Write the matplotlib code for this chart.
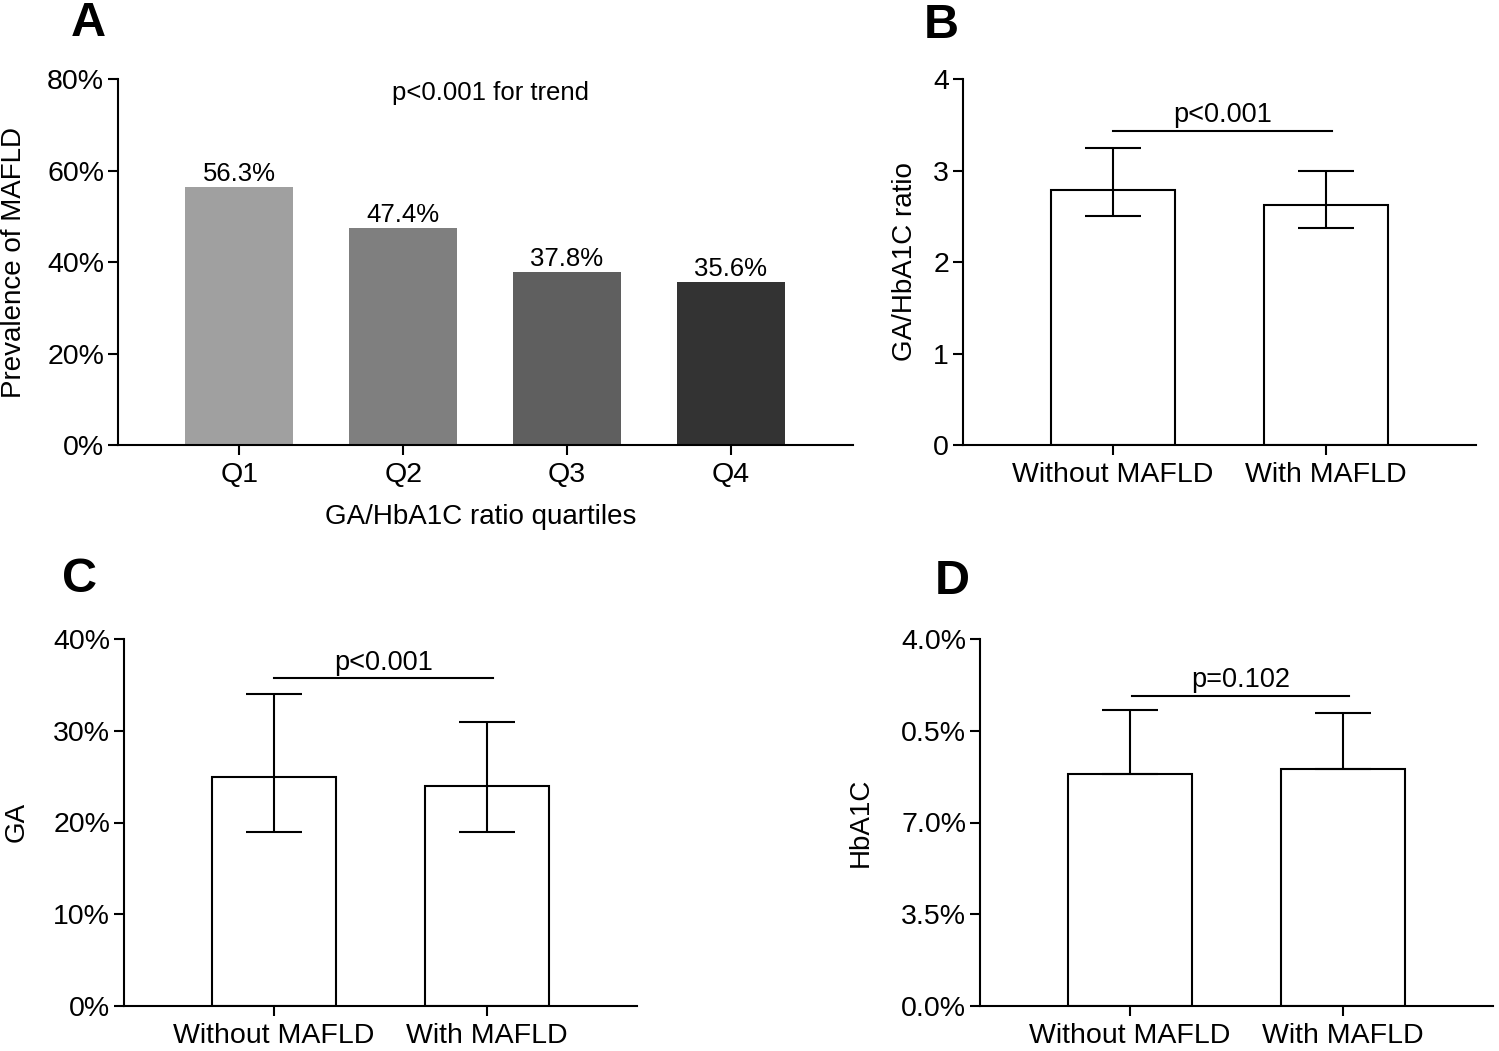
import numpy as np
import matplotlib
matplotlib.use("Agg")
import matplotlib.pyplot as plt

plt.rcParams['font.family'] = ['Liberation Sans', 'DejaVu Sans']

# panel A: prevalence by quartile
quartiles = ["Q1", "Q2", "Q3", "Q4"]
prevalence = [56.3, 47.4, 37.8, 35.6]
quart_colors = ["#a0a0a0", "#7f7f7f", "#5f5f5f", "#333333"]

groups = ["Without MAFLD", "With MAFLD"]

# panel B: GA/HbA1C ratio (median, lower, upper)
ratio_mid = [2.79, 2.62]
ratio_low = [2.50, 2.37]
ratio_high = [3.25, 3.00]

# panel C: GA
ga_mid = [25.0, 24.0]
ga_low = [19.0, 19.0]
ga_high = [34.0, 31.0]

# panel D: HbA1C (only upper whisker drawn)
hba_mid = [8.85, 9.04]
hba_high = [11.29, 11.18]
hba_ticks = [0, 3.5, 7.0, 10.5, 14.0]
hba_ticklabels = ["0.0%", "3.5%", "7.0%", "0.5%", "4.0%"]

W, H = 1499, 1051
fig = plt.figure(figsize=(W / 100, H / 100), dpi=100)


def add_ax(left, right, top, bottom):
    return fig.add_axes([left / W, 1 - bottom / H, (right - left) / W, (bottom - top) / H])


def style(ax):
    for s in ["top", "right"]:
        ax.spines[s].set_visible(False)
    for s in ["left", "bottom"]:
        ax.spines[s].set_linewidth(1.5)
    ax.tick_params(axis="both", width=1.5, length=7, labelsize=20.5)
    ax.tick_params(axis="y", pad=3)
    ax.tick_params(axis="x", pad=5)


def sig(ax, x0, x1, y, txt):
    ax.plot([x0, x1], [y, y], color="black", lw=1.5)
    ax.annotate(txt, xy=((x0 + x1) / 2, y), xytext=(0, 2), textcoords="offset points",
                ha="center", va="bottom", fontsize=19.5)


# ---- A ----
axA = add_ax(118, 853, 79, 445)
xa = np.arange(len(quartiles))
axA.bar(xa, prevalence, width=0.66, color=quart_colors)
for x, v in zip(xa, prevalence):
    axA.annotate("%.1f%%" % v, xy=(x, v), xytext=(0, 1), textcoords="offset points",
                 ha="center", va="bottom", fontsize=18.5)
axA.set_xlim(-0.74, 3.745)
axA.set_ylim(0, 80)
axA.set_yticks([0, 20, 40, 60, 80])
axA.set_yticklabels(["0%", "20%", "40%", "60%", "80%"])
axA.set_xticks(xa)
axA.set_xticklabels(quartiles)
style(axA)
axA.text(1.53, 76.9, "p<0.001 for trend", ha="center", va="center", fontsize=18.5)
fig.text(481 / W, 1 - 517 / H, "GA/HbA1C ratio quartiles", ha="center", va="center", fontsize=20)
fig.text(14 / W, 1 - 262 / H, "Prevalence of MAFLD", rotation=90, ha="center", va="center", fontsize=20)


def group_panel(ax, mid, low, high, lower=True):
    xg = np.arange(len(groups))
    ax.bar(xg, mid, width=0.58, color="white", edgecolor="black", linewidth=1.5, zorder=2)
    lo = [m - l for m, l in zip(mid, low)] if lower else [0] * len(mid)
    hi = [h - m for m, h in zip(mid, high)]
    ax.errorbar(xg, mid, yerr=[lo, hi], fmt="none", ecolor="black", elinewidth=1.5,
                capsize=20, capthick=1.5, zorder=3)
    ax.set_xticks(xg)
    ax.set_xticklabels(groups)
    ax.set_xlim(-0.705, 1.705)
    style(ax)


# ---- B ----
axB = add_ax(963, 1476, 79, 445)
group_panel(axB, ratio_mid, ratio_low, ratio_high)
axB.set_ylim(0, 4)
axB.set_yticks([0, 1, 2, 3, 4])
sig(axB, 0, 1.03, 3.43, "p<0.001")
fig.text(905 / W, 1 - 262 / H, "GA/HbA1C ratio", rotation=90, ha="center", va="center", fontsize=20)

# ---- C ----
axC = add_ax(124, 637, 639, 1006)
group_panel(axC, ga_mid, ga_low, ga_high)
axC.set_ylim(0, 40)
axC.set_yticks([0, 10, 20, 30, 40])
axC.set_yticklabels(["0%", "10%", "20%", "30%", "40%"])
sig(axC, 0, 1.03, 35.7, "p<0.001")
fig.text(17 / W, 1 - 822 / H, "GA", rotation=90, ha="center", va="center", fontsize=20)

# ---- D ----
axD = add_ax(980, 1493, 639, 1006)
group_panel(axD, hba_mid, hba_mid, hba_high, lower=False)
axD.set_ylim(0, 14)
axD.set_yticks(hba_ticks)
axD.set_yticklabels(hba_ticklabels)
sig(axD, 0.01, 1.03, 11.83, "p=0.102")
fig.text(861 / W, 1 - 822 / H, "HbA1C", rotation=90, ha="center", va="center", fontsize=20)

# panel letters
for lab, x, y in [("A", 88, 24), ("B", 941, 26), ("C", 80, 580), ("D", 952, 582)]:
    fig.text(x / W, 1 - y / H, lab, fontsize=35, fontweight="bold", ha="center", va="center")

fig.savefig("out.png", dpi=100)
